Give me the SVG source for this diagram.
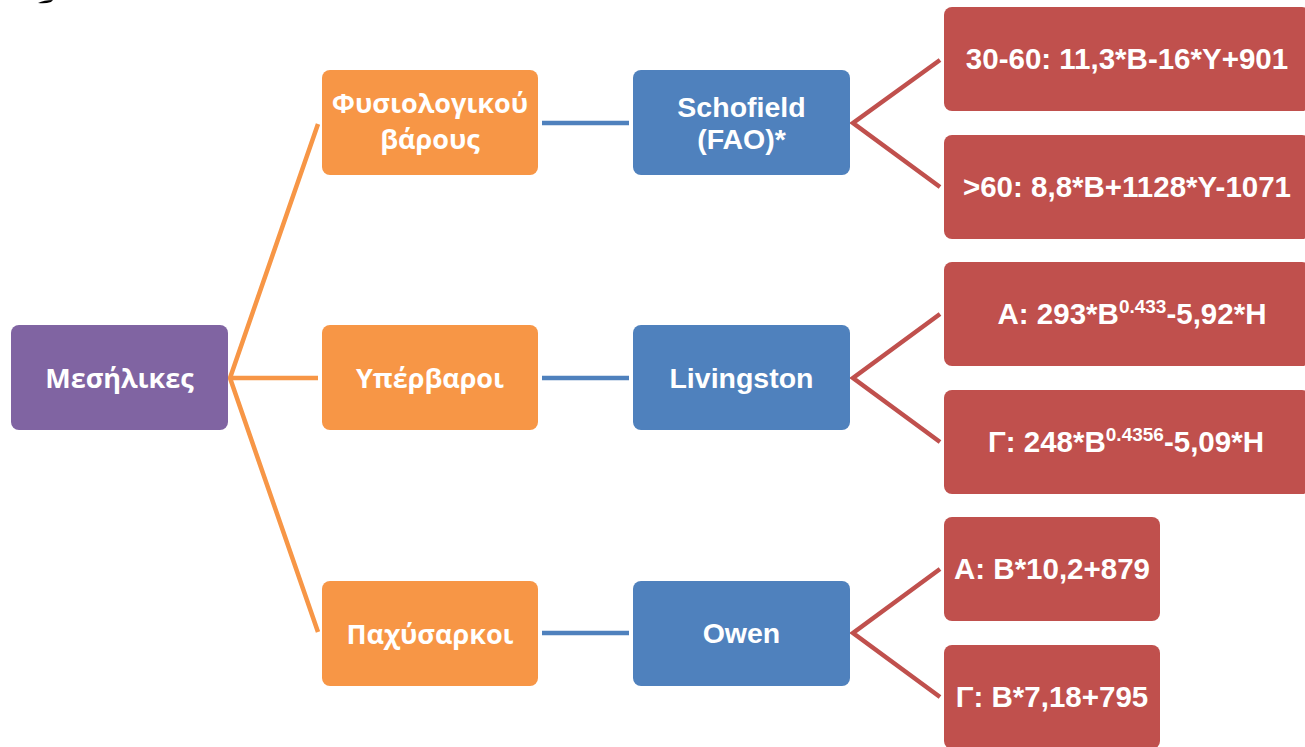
<svg xmlns="http://www.w3.org/2000/svg" width="1305" height="747" viewBox="0 0 1305 747">
<style>
.box{stroke:none}
.purple{fill:#8064A2}
.orange{fill:#F79646}
.blue{fill:#4F81BD}
.red{fill:#C0504D}
.gr{font-family:"Open Sans","Noto Sans","DejaVu Sans",sans-serif;font-weight:bold;font-size:27px;fill:#fff;text-anchor:middle}
.lt{font-family:"Liberation Sans",Arial,sans-serif;font-weight:bold;font-size:28.5px;fill:#fff;text-anchor:middle}
.lr{font-size:29.5px}
.sup{font-size:19px}
.co{stroke:#F79646;stroke-width:4.5;fill:none}
.cb{stroke:#4F81BD;stroke-width:4.5;fill:none}
.cr{stroke:#C0504D;stroke-width:4.5;fill:none}
</style>
<rect width="1305" height="747" fill="#fff"/>
<path d="M38,3 Q44,0 53,0 L51,2 Q45,4 38,3 Z" fill="#000"/>
<g id="connectors">
<path class="co" d="M318,124 L230,378 L318,632 M230,378 L318,378"/>
<path class="cb" d="M542,123 L629,123 M542,378 L629,378 M542,633 L629,633"/>
<path class="cr" d="M940,60 L853,123 L940,187"/>
<path class="cr" d="M940,314 L853,378 L940,442"/>
<path class="cr" d="M940,569 L853,633 L940,697"/>
</g>
<g id="n-mesilikes"><rect class="box purple" x="11" y="325" width="217" height="105" rx="8"/><text class="gr" x="119.5" y="388">Μεσήλικες</text></g>
<g id="n-fysiologikou"><rect class="box orange" x="322" y="70" width="216" height="105" rx="8"/><text class="gr" x="430" y="113">Φυσιολογικού</text><text class="gr" x="430" y="149">βάρους</text></g>
<g id="n-yperbaroi"><rect class="box orange" x="322" y="325" width="216" height="105" rx="8"/><text class="gr" x="430" y="388">Υπέρβαροι</text></g>
<g id="n-paxysarkoi"><rect class="box orange" x="322" y="581" width="216" height="105" rx="8"/><text class="gr" x="430" y="644">Παχύσαρκοι</text></g>
<g id="n-schofield"><rect class="box blue" x="633" y="70" width="217" height="105" rx="8"/><text class="lt" x="741.5" y="117">Schofield</text><text class="lt" x="741.5" y="149">(FAO)*</text></g>
<g id="n-livingston"><rect class="box blue" x="633" y="325" width="217" height="105" rx="8"/><text class="lt" x="741.5" y="388">Livingston</text></g>
<g id="n-owen"><rect class="box blue" x="633" y="581" width="217" height="105" rx="8"/><text class="lt" x="741.5" y="643">Owen</text></g>
<g id="n-s1"><rect class="box red" x="944" y="7" width="366" height="104" rx="8"/><text class="lt lr" x="1127" y="69">30-60: 11,3*Β-16*Υ+901</text></g>
<g id="n-s2"><rect class="box red" x="944" y="135" width="366" height="104" rx="8"/><text class="lt lr" x="1127" y="197">&gt;60: 8,8*Β+1128*Υ-1071</text></g>
<g id="n-l1"><rect class="box red" x="944" y="262" width="366" height="104" rx="8"/><text class="lt lr" x="1132" y="324">Α: 293*Β<tspan class="sup" dy="-11">0.433</tspan><tspan dy="11">-5,92*Η</tspan></text></g>
<g id="n-l2"><rect class="box red" x="944" y="390" width="366" height="104" rx="8"/><text class="lt lr" x="1126" y="452">Γ: 248*Β<tspan class="sup" dy="-11">0.4356</tspan><tspan dy="11">-5,09*Η</tspan></text></g>
<g id="n-o1"><rect class="box red" x="944" y="517" width="216" height="104" rx="8"/><text class="lt lr" x="1052" y="579">Α: Β*10,2+879</text></g>
<g id="n-o2"><rect class="box red" x="944" y="645" width="216" height="104" rx="8"/><text class="lt lr" x="1052" y="707">Γ: Β*7,18+795</text></g>
</svg>
